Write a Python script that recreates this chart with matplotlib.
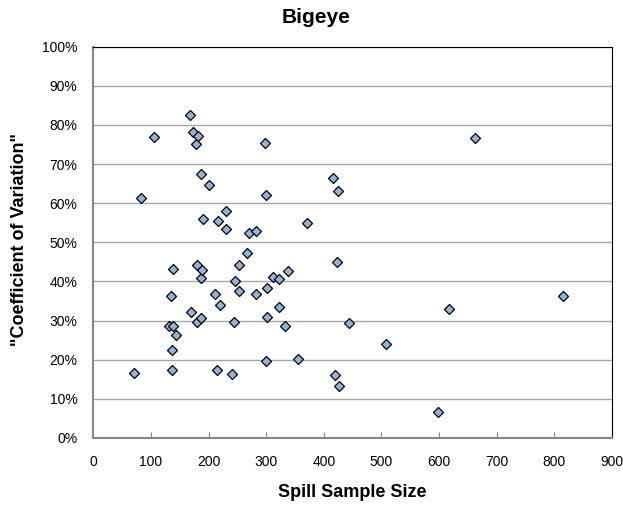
import matplotlib
matplotlib.use("Agg")
import matplotlib.pyplot as plt
from matplotlib.ticker import PercentFormatter

# spill sample size vs coefficient of variation (%)
sample_size = [70, 83.5, 105, 132, 134, 135.7, 136.8, 138, 138, 142.6,
               167.5, 170, 172.7, 177.4, 182, 180.3, 180.3, 186, 187.3, 189,
               187.3, 190.7, 200.5, 212, 214, 216.2, 219, 229.6, 230.7, 240,
               244, 246, 252.7, 252.7, 266, 270, 281.7, 283, 297.4, 299,
               300.3, 301, 302, 312, 322, 322.3, 332.7, 338.6, 355.3, 370.4,
               416, 419.7, 422, 423.8, 426.6, 444, 508, 598, 617.6, 662, 815]
cv_pct = [16.7, 61.3, 77.0, 28.5, 36.4, 22.4, 17.4, 43.2, 28.5, 26.2,
          82.6, 32.1, 78.1, 75.1, 77.3, 29.7, 44.1, 40.8, 67.4, 42.9,
          30.7, 55.9, 64.7, 36.7, 17.4, 55.5, 33.9, 58.0, 53.3, 16.4,
          29.7, 40.2, 37.5, 44.2, 47.2, 52.5, 36.7, 52.9, 75.5, 19.6,
          62.1, 30.9, 38.4, 41.1, 40.7, 33.5, 28.5, 42.7, 20.2, 54.9,
          66.5, 16.2, 44.9, 63.2, 13.2, 29.4, 24.1, 6.7, 33.0, 76.7, 36.4]

x_ticks = list(range(0, 901, 100))
y_ticks = list(range(0, 101, 10))

plt.rcParams['font.family'] = ['Liberation Sans', 'DejaVu Sans']

fig = plt.figure(figsize=(6.23, 5.05), dpi=100)
ax = fig.add_axes([0.1498, 0.1327, 0.8325, 0.7748])

ax.scatter(sample_size, cv_pct, marker='D', s=26, facecolor='#95B3D7',
           edgecolor='black', linewidth=0.9, zorder=3)

ax.set_xlim(0, 900)
ax.set_ylim(0, 100)
ax.set_xticks(x_ticks)
ax.set_yticks(y_ticks)
ax.yaxis.set_major_formatter(PercentFormatter(decimals=0))
ax.grid(axis='y', color='#A6A6A6', linewidth=1.0)
ax.set_axisbelow(True)

ax.tick_params(axis='x', direction='in', length=4, color='#808080', labelsize=10, pad=12)
ax.tick_params(axis='y', length=0, labelsize=10, pad=11.5)
ax.spines['left'].set_color('#868686')
ax.spines['bottom'].set_color('#868686')
ax.spines['left'].set_linewidth(1.5)
ax.spines['bottom'].set_linewidth(1.5)
ax.spines['top'].set_color('black')
ax.spines['right'].set_color('black')

# Excel-style: title centred on the whole chart, labels on the plot area
fig.text(316 / 623, 1 - 23 / 505, 'Bigeye', fontsize=15, fontweight='bold',
         ha='center', va='baseline')
fig.text(352 / 623, 1 - 497 / 505, 'Spill Sample Size', fontsize=13,
         fontweight='bold', ha='center', va='baseline')
fig.text(19.8 / 623, 1 - 240 / 505, '"Coefficient of Variation"', fontsize=13,
         fontweight='bold', ha='center', va='center', rotation=90)

fig.savefig('out.png', dpi=100)
